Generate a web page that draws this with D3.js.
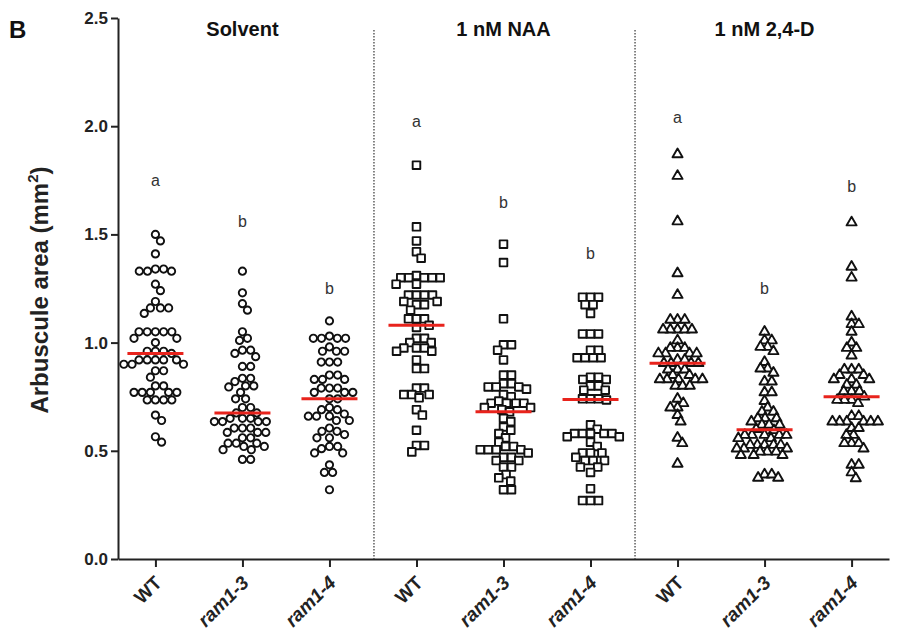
<!DOCTYPE html>
<html>
<head>
<meta charset="utf-8">
<script src="https://cdn.jsdelivr.net/npm/d3@7"></script>
<style>
  body { margin: 0; background: #fff; }
  svg { display: block; font-family: "Liberation Sans", Arial, sans-serif; }
</style>
</head>
<body>
<div id="chart-area"></div>
<script>
// categories on the x axis, three treatment panels
const categories = ["WT", "ram1-3", "ram1-4", "WT", "ram1-3", "ram1-4", "WT", "ram1-3", "ram1-4"]
const treatments = ["Solvent", "1 nM NAA", "1 nM 2,4-D"]
const yTicks = [0, 0.5, 1, 1.5, 2, 2.5]
const sigLetters = ["a", "b", "b", "a", "b", "b", "a", "b", "b"]
const letterLevels = [1.75, 1.56, 1.25, 2.02, 1.65, 1.41, 2.04, 1.25, 1.72]

// arbuscule areas (mm2)
const solventWT = [1.50, 1.47, 1.41, 1.34, 1.34, 1.33, 1.33, 1.33, 1.27, 1.24, 1.19, 1.16, 1.16, 1.16, 1.135,
  1.05, 1.05, 1.05, 1.05, 1.05, 1.02, 1.02, 1.00, 0.96, 0.96, 0.96, 0.95, 0.92, 0.92, 0.92, 0.92, 0.92,
  0.90, 0.90, 0.90, 0.87, 0.87, 0.84, 0.80, 0.80, 0.77, 0.77, 0.77, 0.77, 0.77, 0.735, 0.735, 0.735, 0.735,
  0.665, 0.64, 0.565, 0.54]
const solventRam13 = [1.33, 1.23, 1.18, 1.15, 1.05, 1.02, 1.01, 0.965, 0.965, 0.95, 0.935, 0.89, 0.89, 0.835,
  0.835, 0.82, 0.80, 0.80, 0.795, 0.77, 0.74, 0.74, 0.70, 0.70, 0.675, 0.675, 0.65, 0.65, 0.65, 0.635, 0.635,
  0.635, 0.635, 0.605, 0.605, 0.605, 0.585, 0.585, 0.585, 0.56, 0.56, 0.535, 0.535, 0.535, 0.52, 0.52, 0.505,
  0.505, 0.46, 0.46]
const solventRam14 = [1.10, 1.03, 1.02, 1.02, 1.02, 1.02, 0.98, 0.96, 0.96, 0.96, 0.91, 0.91, 0.91, 0.85, 0.85,
  0.83, 0.83, 0.83, 0.79, 0.79, 0.79, 0.77, 0.77, 0.77, 0.74, 0.74, 0.70, 0.69, 0.69, 0.67, 0.66, 0.66, 0.66,
  0.64, 0.64, 0.605, 0.59, 0.59, 0.575, 0.56, 0.56, 0.52, 0.52, 0.51, 0.49, 0.49, 0.435, 0.40, 0.40, 0.32]
const naaWT = [1.82, 1.535, 1.47, 1.42, 1.39, 1.31, 1.30, 1.30, 1.30, 1.30, 1.30, 1.27, 1.27, 1.22, 1.22, 1.22,
  1.22, 1.19, 1.19, 1.175, 1.175, 1.15, 1.11, 1.11, 1.11, 1.08, 1.07, 1.02, 1.02, 1.00, 1.00, 0.975, 0.975,
  0.975, 0.96, 0.96, 0.92, 0.88, 0.88, 0.79, 0.79, 0.76, 0.76, 0.76, 0.745, 0.69, 0.665, 0.595, 0.525, 0.525,
  0.495]
const naaRam13 = [1.455, 1.37, 1.11, 0.99, 0.99, 0.965, 0.92, 0.85, 0.85, 0.81, 0.81, 0.795, 0.795, 0.795, 0.785,
  0.76, 0.75, 0.73, 0.72, 0.72, 0.72, 0.72, 0.70, 0.70, 0.69, 0.68, 0.65, 0.635, 0.61, 0.595, 0.58, 0.56, 0.54,
  0.52, 0.52, 0.505, 0.505, 0.505, 0.505, 0.49, 0.47, 0.47, 0.455, 0.455, 0.425, 0.425, 0.39, 0.375, 0.36,
  0.32, 0.32]
const naaRam14 = [1.21, 1.21, 1.21, 1.175, 1.175, 1.135, 1.04, 1.04, 1.04, 0.965, 0.965, 0.93, 0.93, 0.93, 0.93,
  0.84, 0.84, 0.83, 0.83, 0.80, 0.80, 0.78, 0.78, 0.74, 0.74, 0.74, 0.735, 0.62, 0.60, 0.58, 0.58, 0.58, 0.58,
  0.58, 0.565, 0.565, 0.54, 0.52, 0.49, 0.49, 0.49, 0.47, 0.455, 0.455, 0.455, 0.425, 0.425, 0.40, 0.325,
  0.27, 0.27, 0.27]
const dWT = [1.87, 1.77, 1.56, 1.32, 1.22, 1.105, 1.105, 1.105, 1.06, 1.06, 1.06, 1.06, 1.06, 1.01, 0.975, 0.975,
  0.975, 0.95, 0.95, 0.95, 0.95, 0.92, 0.92, 0.905, 0.905, 0.905, 0.905, 0.875, 0.875, 0.875, 0.85, 0.85, 0.83,
  0.83, 0.83, 0.83, 0.83, 0.80, 0.80, 0.80, 0.74, 0.72, 0.70, 0.70, 0.665, 0.635, 0.56, 0.535, 0.44]
const dRam13 = [1.05, 1.01, 1.01, 0.98, 0.98, 0.96, 0.91, 0.88, 0.88, 0.86, 0.82, 0.82, 0.77, 0.77, 0.73, 0.70,
  0.68, 0.68, 0.65, 0.65, 0.65, 0.635, 0.62, 0.62, 0.62, 0.60, 0.595, 0.573, 0.573, 0.573, 0.573, 0.573,
  0.558, 0.558, 0.527, 0.527, 0.527, 0.527, 0.527, 0.51, 0.51, 0.51, 0.496, 0.496, 0.496, 0.48, 0.48, 0.48,
  0.39, 0.39, 0.375, 0.375]
const dRam14 = [1.555, 1.35, 1.30, 1.12, 1.085, 1.085, 1.05, 1.00, 0.975, 0.975, 0.94, 0.875, 0.875, 0.875, 0.85,
  0.85, 0.83, 0.83, 0.83, 0.805, 0.805, 0.775, 0.775, 0.775, 0.75, 0.735, 0.735, 0.735, 0.72, 0.66, 0.66,
  0.635, 0.635, 0.635, 0.635, 0.635, 0.635, 0.605, 0.605, 0.573, 0.573, 0.535, 0.535, 0.535, 0.51, 0.435,
  0.435, 0.40, 0.373]

const seriesValues = [solventWT, solventRam13, solventRam14, naaWT, naaRam13, naaRam14, dWT, dRam13, dRam14]

const width = 898, height = 641

const svg = d3.select("#chart-area").append("svg")
  .attr("width", width)
  .attr("height", height)

const y = d3.scaleLinear().domain([0, 2.5]).range([559, 18])
const x = d3.scalePoint().domain(d3.range(categories.length)).range([118, 889]).padding(0.43)

// y axis
const yAxis = svg.append("g")
  .attr("transform", "translate(118,0)")
  .call(d3.axisLeft(y).tickValues(yTicks).tickFormat(d3.format(".1f")).tickSize(7).tickSizeOuter(0).tickPadding(3))
yAxis.selectAll("path, line").attr("stroke", "#222").attr("stroke-width", 2)
yAxis.selectAll("text").attr("font-size", 17).attr("font-weight", "bold").attr("fill", "#222")
  .attr("font-family", "Liberation Sans, Arial, sans-serif")

// x axis
const xAxis = svg.append("g")
  .attr("transform", "translate(0,559)")
  .call(d3.axisBottom(x).tickFormat(i => categories[i]).tickSize(8).tickSizeOuter(0))
xAxis.selectAll("path, line").attr("stroke", "#222").attr("stroke-width", 2)
xAxis.selectAll("text")
  .attr("font-size", 19).attr("font-weight", "bold").attr("fill", "#222")
  .attr("font-family", "Liberation Sans, Arial, sans-serif")
  .attr("font-style", i => categories[i] === "WT" ? "normal" : "italic")
  .attr("text-anchor", "end")
  .attr("x", 0).attr("y", 0).attr("dy", 0)
  .attr("transform", "translate(7,25) rotate(-45)")

// dotted panel separators
const step = x.step()
svg.selectAll(".sep")
  .data([2.5, 5.5])
  .enter().append("line")
  .attr("x1", d => x(0) + d * step + 1)
  .attr("x2", d => x(0) + d * step + 1)
  .attr("y1", 30)
  .attr("y2", y(0))
  .attr("stroke", "#444")
  .attr("stroke-width", 1.3)
  .attr("stroke-dasharray", "1.5,1.5")

// panel titles
svg.selectAll(".title")
  .data(treatments)
  .enter().append("text")
  .attr("x", (d, i) => x(i * 3 + 1))
  .attr("y", 36)
  .attr("text-anchor", "middle")
  .attr("font-size", 20)
  .attr("font-weight", "bold")
  .attr("fill", "#111")
  .text(d => d)

// panel letter
svg.append("text")
  .attr("x", 9).attr("y", 38)
  .attr("font-size", 24).attr("font-weight", "bold").attr("fill", "#111")
  .text("B")

// y axis title
const yTitle = svg.append("text")
  .attr("transform", "translate(48,290) rotate(-90)")
  .attr("text-anchor", "middle")
  .attr("font-size", 24)
  .attr("font-weight", "bold")
  .attr("fill", "#222")
yTitle.append("tspan").text("Arbuscule area (mm")
yTitle.append("tspan").text("2").attr("font-size", 15).attr("dy", -10)
yTitle.append("tspan").text(")").attr("dy", 10)

// significance letters
svg.selectAll(".sig")
  .data(sigLetters)
  .enter().append("text")
  .attr("x", (d, i) => x(i))
  .attr("y", (d, i) => y(letterLevels[i]))
  .attr("dy", "0.35em")
  .attr("text-anchor", "middle")
  .attr("font-size", 16)
  .attr("fill", "#333")
  .text(d => d)

// simple beeswarm: place each point at the closest free spot to the centre
function swarm(values, diam) {
  const pts = values.map(v => ({ v: v, py: y(v), dx: 0 }))
  const sorted = pts.slice().sort((a, b) => d3.descending(a.v, b.v))
  const placed = []
  sorted.forEach(p => {
    const near = placed.filter(q => Math.abs(q.py - p.py) < diam)
    const cands = [0]
    near.forEach(q => {
      const off = Math.sqrt(diam * diam - (q.py - p.py) ** 2)
      cands.push(q.dx + off, q.dx - off)
    })
    cands.sort((a, b) => Math.abs(a) - Math.abs(b))
    p.dx = cands.find(c => near.every(q => (q.dx - c) ** 2 + (q.py - p.py) ** 2 >= diam * diam - 0.01))
    placed.push(p)
  })
  return pts
}

const shapes = [d3.symbolCircle, d3.symbolSquare, d3.symbolTriangle]
const sizes = [42, 58, 44]
const spacing = [8.2, 8.0, 7.2]

seriesValues.forEach((vals, i) => {
  const panel = Math.floor(i / 3)
  const pts = swarm(vals, spacing[panel])
  const g = svg.append("g")
  g.selectAll("path")
    .data(pts)
    .enter().append("path")
    .attr("d", d3.symbol().type(shapes[panel]).size(sizes[panel]))
    .attr("transform", d => `translate(${x(i) + d.dx},${d.py})`)
    .attr("fill", "white")
    .attr("stroke", "#111")
    .attr("stroke-width", 1.9)
    .attr("stroke-linejoin", "round")

  // red median line
  const med = d3.median(vals)
  g.append("line")
    .attr("x1", x(i) - 28)
    .attr("x2", x(i) + 28)
    .attr("y1", y(med))
    .attr("y2", y(med))
    .attr("stroke", "#e8231c")
    .attr("stroke-width", 3)
})
</script>
</body>
</html>
